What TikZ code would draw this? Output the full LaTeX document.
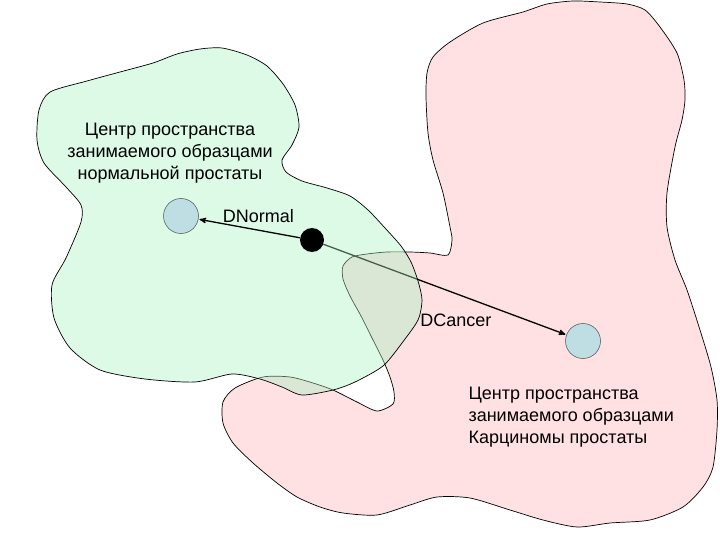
\documentclass[tikz,border=0pt]{standalone}
\usepackage{fontspec}
\setmainfont{Liberation Sans}
\usetikzlibrary{arrows}
\definecolor{normalgreen}{RGB}{167,242,192}
\definecolor{cancerpink}{RGB}{255,225,227}
\definecolor{centreblue}{RGB}{191,222,228}
\pgfdeclarelayer{back}
\pgfdeclarelayer{mid}
\pgfsetlayers{back,mid,main}
\tikzset{
  blob/.style={draw=black, line width=0.7pt, smooth cycle, tension=0.45},
  normal blob/.style={blob, fill=normalgreen, fill opacity=0.4},
  cancer blob/.style={blob, fill=cancerpink},
  centre/.style={circle, draw=black!70, line width=0.5pt, fill=centreblue, minimum size=35pt, inner sep=0pt},
  sample/.style={circle, fill=black, minimum size=24pt, inner sep=0pt},
  caption/.style={font=\fontsize{18}{22}\selectfont},
  dist/.style={->, >=stealth', line width=1.3pt, shorten >=1pt}
}
\begin{document}
\begin{tikzpicture}[x=1pt, y=-1pt]
\useasboundingbox (0,0) rectangle (720,540);

\node[centre] (normal) at (181,216) {};
\node[sample] (x) at (312,240) {};
\node[centre] (cancer) at (583,341) {};

\node[caption, align=center] (normaltext) at (170,153)
  {Центр пространства\\занимаемого образцами\\нормальной простаты};
\node[caption, align=left, anchor=west] (cancertext) at (465,417)
  {Центр пространства\\занимаемого образцами\\Карциномы простаты};

% pink region and the distance to the cancer centre
\begin{pgfonlayer}{back}
\draw[cancer blob] plot coordinates {
  (523,12) (547,4) (573,1) (600,2) (627,4) (645,10) (660,27) (677,53)
  (684,80) (685,100) (682,120) (675,147) (667,193) (667,227) (675,260)
  (687,290) (700,330) (711,367) (717,400) (717,430) (713,467) (703,487)
  (683,507) (650,520) (610,523) (577,527) (543,520) (510,510) (470,498)
  (437,497) (410,505) (377,515) (343,513) (320,507) (297,497) (277,483)
  (253,463) (233,443) (223,423) (223,402) (235,388) (263,377) (290,377)
  (313,383) (333,390) (357,402) (377,411) (393,404) (394,392) (390,377)
  (383,360) (372,338) (361,316) (350,296) (343,279) (343,266) (352,257)
  (367,254) (387,252) (410,252) (430,253) (448,255) (452,240) (450,227)
  (443,193) (433,160) (428,133) (426,97) (427,73) (433,57) (450,42) (483,23)};
\path (x) edge[dist] node[pos=0.545, below=16pt, caption] {DCancer} (cancer);
\end{pgfonlayer}

% green region
\begin{pgfonlayer}{mid}
\draw[normal blob] plot coordinates {
  (50,92) (87,81) (120,72) (153,63) (177,54) (200,49) (222,48) (247,55)
  (267,66) (283,84) (295,105) (299,127) (292,145) (282,160) (286,172)
  (302,181) (327,188) (350,196) (368,210) (385,228) (401,246) (411,262)
  (418,281) (422,300) (418,320) (402,343) (383,366) (355,382) (333,390)
  (302,395) (282,387) (260,379) (232,374) (195,382) (145,379) (100,370)
  (70,348) (54,318) (52,285) (66,258) (81,222) (81,205) (66,187) (44,163)
  (37,140) (39,110)};
\end{pgfonlayer}

\path (x) edge[dist] node[pos=0.41, above=4pt, caption] {DNormal} (normal);

\end{tikzpicture}
\end{document}
